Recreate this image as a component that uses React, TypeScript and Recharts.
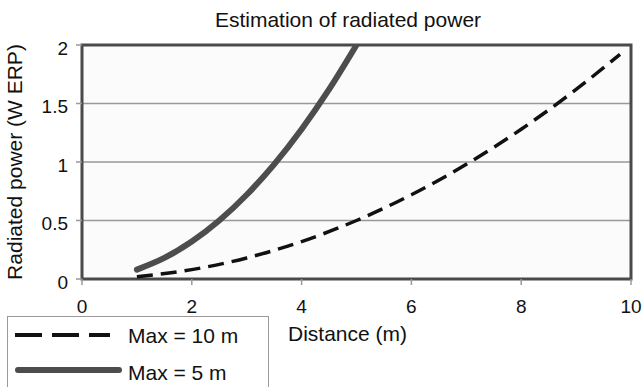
import { LineChart, Line, XAxis, YAxis, CartesianGrid, ReferenceArea, Legend } from "recharts";

const distanceTicks = [0, 2, 4, 6, 8, 10];
const powerTicks = [0, 0.5, 1, 1.5, 2];
const gridValues = [0.5, 1, 1.5];

// Max = 10 m curve (dashed)
const max10Distance = [1, 2, 3, 4, 5, 6, 7, 8, 9, 9.8];
const max10Power = [0.02, 0.08, 0.18, 0.32, 0.5, 0.72, 0.98, 1.28, 1.62, 1.92];

// Max = 5 m curve (solid, thick)
const max5Distance = [1, 1.5, 2, 2.5, 3, 3.5, 4, 4.5, 5];
const max5Power = [0.08, 0.18, 0.32, 0.5, 0.72, 0.98, 1.28, 1.62, 2.0];

const FONT = "'Liberation Sans', Arial, Helvetica, sans-serif";

const max10Data = max10Distance.map((x, i) => ({ x, power: max10Power[i] }));
const max5Data = max5Distance.map((x, i) => ({ x, power: max5Power[i] }));

function XLabel(props: any) {
  const vb = props.viewBox;
  return (
    <text
      x={vb.x + vb.width / 2 - 9}
      y={vb.y + vb.height + 32}
      textAnchor="middle"
      fontSize={21}
      fontFamily={FONT}
      fill="#111"
    >
      Distance (m)
    </text>
  );
}

function YLabel(props: any) {
  const vb = props.viewBox;
  const cx = vb.x + 21.5;
  const cy = vb.y + vb.height / 2;
  return (
    <text
      x={cx}
      y={cy}
      transform={"rotate(-90, " + cx + ", " + cy + ")"}
      textAnchor="middle"
      fontSize={21}
      fontFamily={FONT}
      fill="#111"
    >
      Radiated power (W ERP)
    </text>
  );
}

// legend box hangs off the bottom edge, so it is absolutely positioned and takes no layout space
function LegendBox() {
  return (
    <div
      style={{
        position: "absolute",
        left: 0,
        top: 0,
        width: 262,
        height: 80,
        border: "1.5px solid #999",
        background: "#fff",
        boxSizing: "border-box",
      }}
    >
      <svg width={262} height={80} style={{ position: "absolute", left: -1.5, top: -1.5 }}>
        <line x1={8} y1={19} x2={103} y2={19} stroke="#111" strokeWidth={4} strokeDasharray="27 10" />
        <text x={121} y={27} fontSize={21} fontFamily={FONT} fill="#111">
          Max = 10 m
        </text>
        <line x1={11} y1={54} x2={112} y2={54} stroke="#4d4d4d" strokeWidth={6} strokeLinecap="round" />
        <text x={121} y={64} fontSize={21} fontFamily={FONT} fill="#111">
          Max = 5 m
        </text>
      </svg>
    </div>
  );
}

export default function App() {
  return (
    <div style={{ position: "absolute", left: 0, top: 0, width: 642, height: 387, background: "#fff", overflow: "hidden" }}>
      <div
        style={{
          position: "absolute",
          left: 348,
          top: 10,
          transform: "translateX(-50%)",
          whiteSpace: "nowrap",
          fontFamily: FONT,
          fontSize: 21,
          lineHeight: "20px",
          color: "#111",
        }}
      >
        Estimation of radiated power
      </div>
      <LineChart width={642} height={387} margin={{ top: 45, right: 11, left: 0, bottom: 78 }}>
        <CartesianGrid
          vertical={false}
          horizontalValues={gridValues}
          stroke="#999"
          strokeWidth={1.5}
          fill="#fbfbfb"
        />
        <XAxis
          type="number"
          dataKey="x"
          domain={[0, 10]}
          ticks={distanceTicks}
          allowDataOverflow
          height={30}
          axisLine={false}
          tickLine={{ stroke: "#999", strokeWidth: 1.5 }}
          tickSize={6}
          tickMargin={15}
          tick={{ fill: "#111", fontSize: 19, fontFamily: FONT }}
          label={XLabel}
        />
        <YAxis
          type="number"
          dataKey="power"
          domain={[0, 2]}
          ticks={powerTicks}
          allowDataOverflow
          width={82}
          axisLine={false}
          tickLine={{ stroke: "#999", strokeWidth: 1.5 }}
          tickSize={6}
          tickMargin={8}
          tick={{ fill: "#111", fontSize: 19, fontFamily: FONT, dy: 3 }}
          label={YLabel}
        />
        <ReferenceArea
          x1={0}
          x2={10}
          y1={0}
          y2={2}
          fill="none"
          fillOpacity={0}
          stroke="#4a4a4a"
          strokeWidth={3}
          ifOverflow="visible"
        />
        <Line
          data={max10Data}
          dataKey="power"
          type="monotone"
          stroke="#111"
          strokeWidth={3.5}
          strokeDasharray="16 8"
          dot={false}
          activeDot={false}
          isAnimationActive={false}
          legendType="none"
        />
        <Line
          data={max5Data}
          dataKey="power"
          type="monotone"
          stroke="#4d4d4d"
          strokeWidth={6}
          strokeLinecap="round"
          dot={false}
          activeDot={false}
          isAnimationActive={false}
          legendType="none"
        />
        <Legend
          content={<LegendBox />}
          wrapperStyle={{ position: "absolute", left: 7, top: 316, width: 0, height: 0, bottom: "auto", overflow: "visible" }}
        />
      </LineChart>
    </div>
  );
}
